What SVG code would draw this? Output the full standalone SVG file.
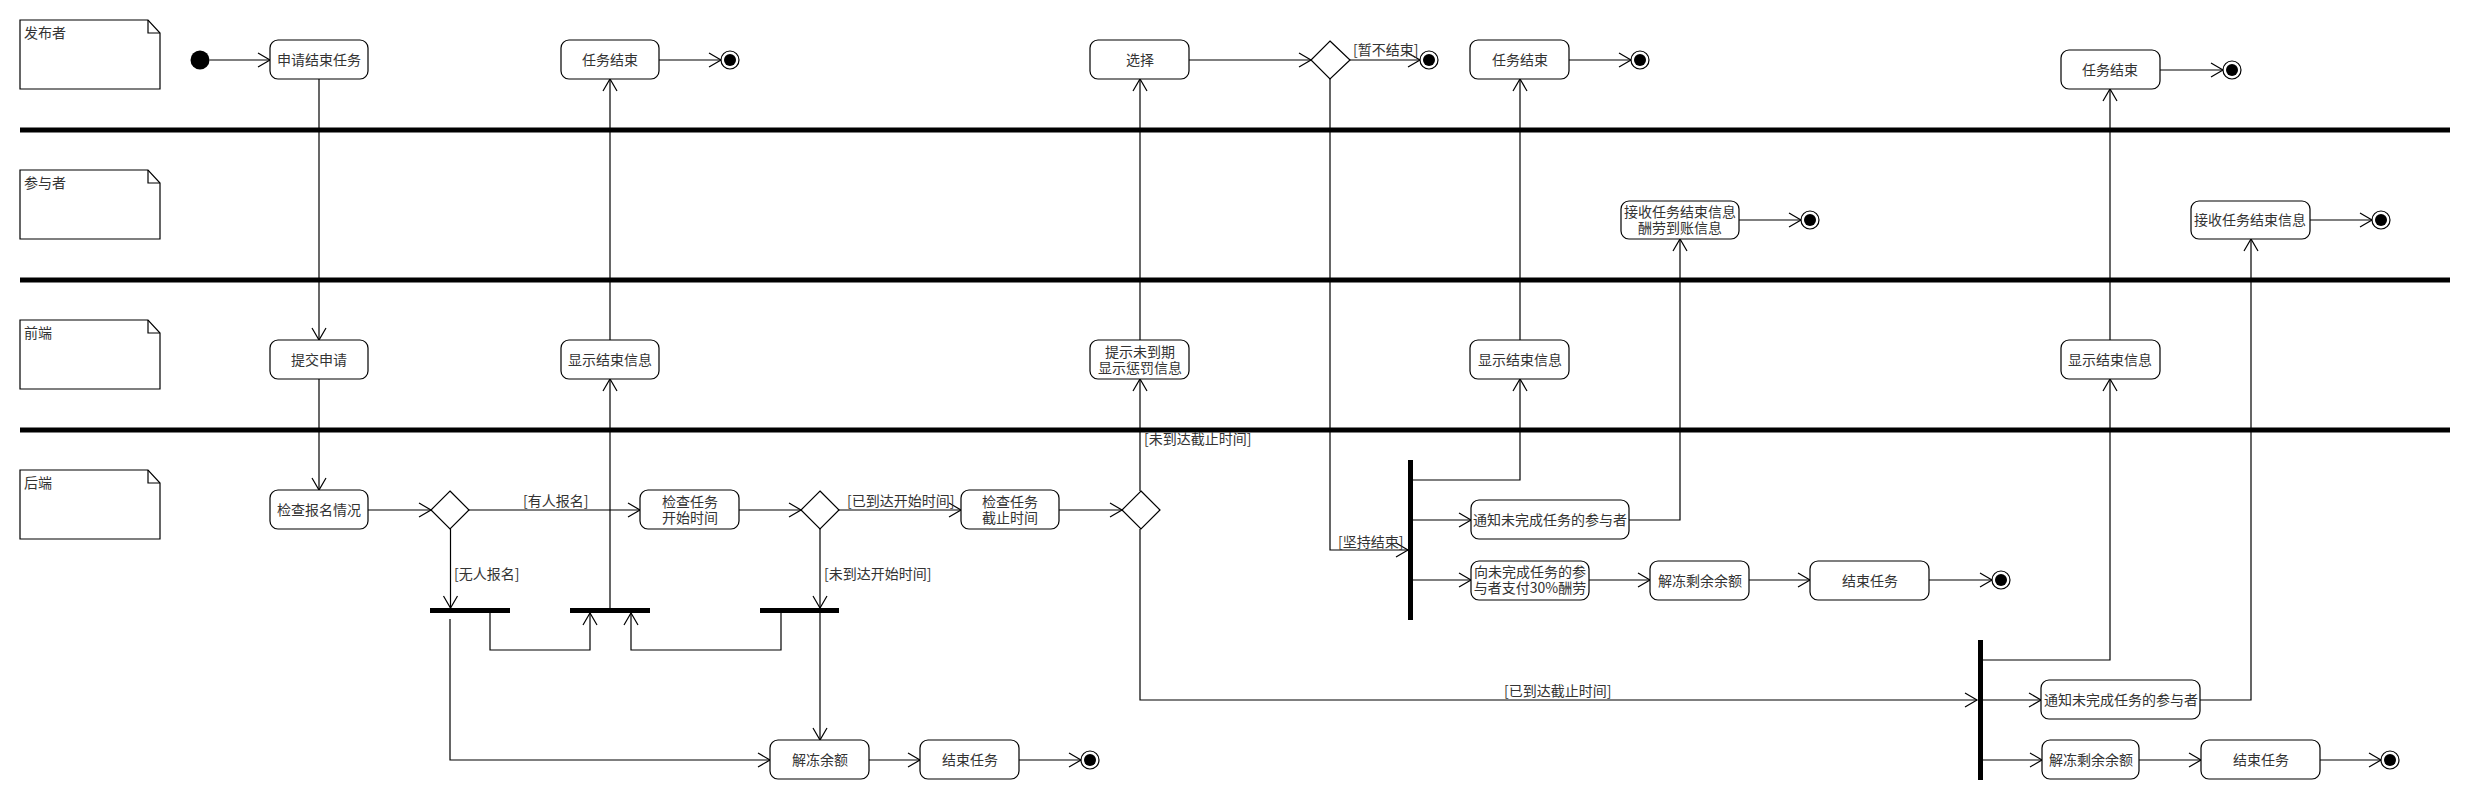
<svg xmlns="http://www.w3.org/2000/svg" width="2470" height="800" viewBox="0 0 2470 800">
<style>
.bg{fill:#fff}
.lane{stroke:#000;stroke-width:5}
.note{fill:#fff;stroke:#000;stroke-width:1.2}
.nt{font-family:"Noto Sans CJK SC","Liberation Sans",sans-serif;font-size:14px;fill:#333}
.node rect{fill:#fff;stroke:#000;stroke-width:1.2}
.node text{font-family:"Noto Sans CJK SC","Liberation Sans",sans-serif;font-size:14px;fill:#333;text-anchor:middle}
.dia{fill:#fff;stroke:#000;stroke-width:1.2}
.bar{fill:#000}
.init{fill:#000}
.fo{fill:#fff;stroke:#000;stroke-width:1.2}
.fi{fill:#000}
.edge{fill:none;stroke:#000;stroke-width:1.2;marker-end:url(#arr)}
.line{fill:none;stroke:#000;stroke-width:1.2}
.lbl{font-family:"Noto Sans CJK SC","Liberation Sans",sans-serif;font-size:14px;fill:#333}
</style>
<defs>
<marker id="arr" viewBox="-14 -9 16 18" refX="0" refY="0" markerWidth="16" markerHeight="18" markerUnits="userSpaceOnUse" orient="auto">
<path d="M-12,-7 L0,0 L-12,7" fill="none" stroke="#000" stroke-width="1.2"/>
</marker>
</defs>
<rect class="bg" x="0" y="0" width="2470" height="800"/>

<g id="lanes">
<line class="lane" x1="20" y1="130" x2="2450" y2="130"/>
<line class="lane" x1="20" y1="280" x2="2450" y2="280"/>
<line class="lane" x1="20" y1="430" x2="2450" y2="430"/>
</g>

<g id="lane-publisher">
<path class="note" d="M20,20 L148,20 L160,33 L160,89 L20,89 Z"/>
<path class="line" d="M148,20 L148,33 L160,33"/>
<text class="nt" x="24" y="38">发布者</text>
</g>
<g id="lane-participant">
<path class="note" d="M20,170 L148,170 L160,183 L160,239 L20,239 Z"/>
<path class="line" d="M148,170 L148,183 L160,183"/>
<text class="nt" x="24" y="188">参与者</text>
</g>
<g id="lane-frontend">
<path class="note" d="M20,320 L148,320 L160,333 L160,389 L20,389 Z"/>
<path class="line" d="M148,320 L148,333 L160,333"/>
<text class="nt" x="24" y="338">前端</text>
</g>
<g id="lane-backend">
<path class="note" d="M20,470 L148,470 L160,483 L160,539 L20,539 Z"/>
<path class="line" d="M148,470 L148,483 L160,483"/>
<text class="nt" x="24" y="488">后端</text>
</g>

<g id="connectors">
<path class="edge" d="M209.5,60 L270,60"/>
<path class="edge" d="M319,79 L319,340"/>
<path class="edge" d="M319,379 L319,490"/>
<path class="edge" d="M368,510 L431,510"/>
<path class="edge" d="M469,510 L640,510"/>
<path class="edge" d="M739,510 L801,510"/>
<path class="edge" d="M839,510 L961,510"/>
<path class="edge" d="M1059,510 L1122,510"/>
<path class="edge" d="M450.5,529 L450.5,608"/>
<path class="edge" d="M820,529 L820,608"/>
<path class="edge" d="M450,619 L450,760 L770,760"/>
<path class="edge" d="M490,613 L490,650 L590,650 L590,613"/>
<path class="edge" d="M781,613 L781,650 L631,650 L631,613"/>
<path class="edge" d="M610,608 L610,379"/>
<path class="edge" d="M610,340 L610,79"/>
<path class="edge" d="M659,60 L721,60"/>
<path class="edge" d="M820,613 L820,740"/>
<path class="edge" d="M869,760 L920,760"/>
<path class="edge" d="M1019,760 L1081,760"/>
<path class="edge" d="M1140,491 L1140,379"/>
<path class="edge" d="M1140,340 L1140,79"/>
<path class="edge" d="M1189,60 L1311,60"/>
<path class="edge" d="M1350,60 L1420,60"/>
<path class="edge" d="M1330,79 L1330,550 L1408,550"/>
<path class="edge" d="M1413,480 L1520,480 L1520,379"/>
<path class="edge" d="M1520,340 L1520,79"/>
<path class="edge" d="M1569,60 L1631,60"/>
<path class="edge" d="M1413,520 L1471,520"/>
<path class="edge" d="M1629,520 L1680,520 L1680,239"/>
<path class="edge" d="M1739,220 L1801,220"/>
<path class="edge" d="M1413,580 L1471,580"/>
<path class="edge" d="M1589,580 L1650,580"/>
<path class="edge" d="M1749,580 L1810,580"/>
<path class="edge" d="M1929,580 L1992,580"/>
<path class="edge" d="M1140,529 L1140,700 L1977,700"/>
<path class="edge" d="M1983,660 L2110,660 L2110,379"/>
<path class="edge" d="M2110,340 L2110,89"/>
<path class="edge" d="M2160,70 L2223,70"/>
<path class="edge" d="M1983,700 L2041,700"/>
<path class="edge" d="M2200,700 L2251,700 L2251,239"/>
<path class="edge" d="M2310,220 L2372,220"/>
<path class="edge" d="M1983,760 L2042,760"/>
<path class="edge" d="M2139,760 L2201,760"/>
<path class="edge" d="M2320,760 L2381,760"/>
<text class="lbl" x="523" y="506">[有人报名]</text>
<text class="lbl" x="847" y="506">[已到达开始时间]</text>
<text class="lbl" x="454" y="579">[无人报名]</text>
<text class="lbl" x="824" y="579">[未到达开始时间]</text>
<text class="lbl" x="1144" y="444">[未到达截止时间]</text>
<text class="lbl" x="1353" y="55">[暂不结束]</text>
<text class="lbl" x="1338" y="547">[坚持结束]</text>
<text class="lbl" x="1504" y="696">[已到达截止时间]</text>
</g>

<g id="initial"><circle class="init" cx="200" cy="60" r="9.5"/></g>

<g id="n-apply" class="node"><rect x="270" y="40" width="98" height="39" rx="8"/><text x="319" y="65">申请结束任务</text></g>
<g id="n-end1" class="node"><rect x="561" y="40" width="98" height="39" rx="8"/><text x="610" y="65">任务结束</text></g>
<g id="n-choose" class="node"><rect x="1090" y="40" width="99" height="39" rx="8"/><text x="1140" y="65">选择</text></g>
<g id="d-choose"><path class="dia" d="M1330,41 L1350,60 L1330,79 L1311,60 Z"/></g>
<g id="n-end2" class="node"><rect x="1470" y="40" width="99" height="39" rx="8"/><text x="1520" y="65">任务结束</text></g>
<g id="n-end3" class="node"><rect x="2061" y="50" width="99" height="39" rx="8"/><text x="2110" y="75">任务结束</text></g>

<g id="n-recv1" class="node"><rect x="1621" y="201" width="118" height="38" rx="8"/><text x="1680" y="217">接收任务结束信息</text><text x="1680" y="233">酬劳到账信息</text></g>
<g id="n-recv2" class="node"><rect x="2191" y="201" width="119" height="38" rx="8"/><text x="2250" y="225">接收任务结束信息</text></g>

<g id="n-submit" class="node"><rect x="270" y="340" width="98" height="39" rx="8"/><text x="319" y="365">提交申请</text></g>
<g id="n-show1" class="node"><rect x="561" y="340" width="98" height="39" rx="8"/><text x="610" y="365">显示结束信息</text></g>
<g id="n-hint" class="node"><rect x="1090" y="340" width="99" height="39" rx="8"/><text x="1140" y="357">提示未到期</text><text x="1140" y="373">显示惩罚信息</text></g>
<g id="n-show2" class="node"><rect x="1470" y="340" width="99" height="39" rx="8"/><text x="1520" y="365">显示结束信息</text></g>
<g id="n-show3" class="node"><rect x="2061" y="340" width="99" height="39" rx="8"/><text x="2110" y="365">显示结束信息</text></g>

<g id="n-check" class="node"><rect x="270" y="490" width="98" height="39" rx="8"/><text x="319" y="515">检查报名情况</text></g>
<g id="d-1"><path class="dia" d="M450,491 L469,510 L450,529 L431,510 Z"/></g>
<g id="n-start" class="node"><rect x="640" y="490" width="99" height="39" rx="8"/><text x="690" y="507">检查任务</text><text x="690" y="523">开始时间</text></g>
<g id="d-2"><path class="dia" d="M820,491 L839,510 L820,529 L801,510 Z"/></g>
<g id="n-deadline" class="node"><rect x="961" y="490" width="98" height="39" rx="8"/><text x="1010" y="507">检查任务</text><text x="1010" y="523">截止时间</text></g>
<g id="d-3"><path class="dia" d="M1141,491 L1160,510 L1141,529 L1122,510 Z"/></g>

<g id="bar-1"><rect class="bar" x="430" y="608" width="80" height="5"/></g>
<g id="bar-2"><rect class="bar" x="570" y="608" width="80" height="5"/></g>
<g id="bar-3"><rect class="bar" x="760" y="608" width="79" height="5"/></g>

<g id="n-unfreeze" class="node"><rect x="770" y="740" width="99" height="39" rx="8"/><text x="820" y="765">解冻余额</text></g>
<g id="n-finish" class="node"><rect x="920" y="740" width="99" height="39" rx="8"/><text x="970" y="765">结束任务</text></g>

<g id="bar-4"><rect class="bar" x="1408" y="460" width="5" height="160"/></g>
<g id="n-notify1" class="node"><rect x="1471" y="500" width="158" height="39" rx="8"/><text x="1550" y="525">通知未完成任务的参与者</text></g>
<g id="n-pay" class="node"><rect x="1471" y="561" width="118" height="39" rx="8"/><text x="1530" y="577">向未完成任务的参</text><text x="1530" y="593">与者支付30%酬劳</text></g>
<g id="n-unfreeze2" class="node"><rect x="1650" y="561" width="99" height="39" rx="8"/><text x="1700" y="586">解冻剩余余额</text></g>
<g id="n-finish2" class="node"><rect x="1810" y="561" width="119" height="39" rx="8"/><text x="1870" y="586">结束任务</text></g>

<g id="bar-5"><rect class="bar" x="1978" y="640" width="5" height="140"/></g>
<g id="n-notify2" class="node"><rect x="2041" y="680" width="159" height="39" rx="8"/><text x="2121" y="705">通知未完成任务的参与者</text></g>
<g id="n-unfreeze3" class="node"><rect x="2042" y="740" width="97" height="39" rx="8"/><text x="2091" y="765">解冻剩余余额</text></g>
<g id="n-finish3" class="node"><rect x="2201" y="740" width="119" height="39" rx="8"/><text x="2261" y="765">结束任务</text></g>

<g id="final-1"><circle class="fo" cx="730" cy="60" r="9"/><circle class="fi" cx="730" cy="60" r="6"/></g>
<g id="final-2"><circle class="fo" cx="1429" cy="60" r="9"/><circle class="fi" cx="1429" cy="60" r="6"/></g>
<g id="final-3"><circle class="fo" cx="1640" cy="60" r="9"/><circle class="fi" cx="1640" cy="60" r="6"/></g>
<g id="final-4"><circle class="fo" cx="2232" cy="70" r="9"/><circle class="fi" cx="2232" cy="70" r="6"/></g>
<g id="final-5"><circle class="fo" cx="1810" cy="220" r="9"/><circle class="fi" cx="1810" cy="220" r="6"/></g>
<g id="final-6"><circle class="fo" cx="2381" cy="220" r="9"/><circle class="fi" cx="2381" cy="220" r="6"/></g>
<g id="final-7"><circle class="fo" cx="1090" cy="760" r="9"/><circle class="fi" cx="1090" cy="760" r="6"/></g>
<g id="final-8"><circle class="fo" cx="2001" cy="580" r="9"/><circle class="fi" cx="2001" cy="580" r="6"/></g>
<g id="final-9"><circle class="fo" cx="2390" cy="760" r="9"/><circle class="fi" cx="2390" cy="760" r="6"/></g>
</svg>
